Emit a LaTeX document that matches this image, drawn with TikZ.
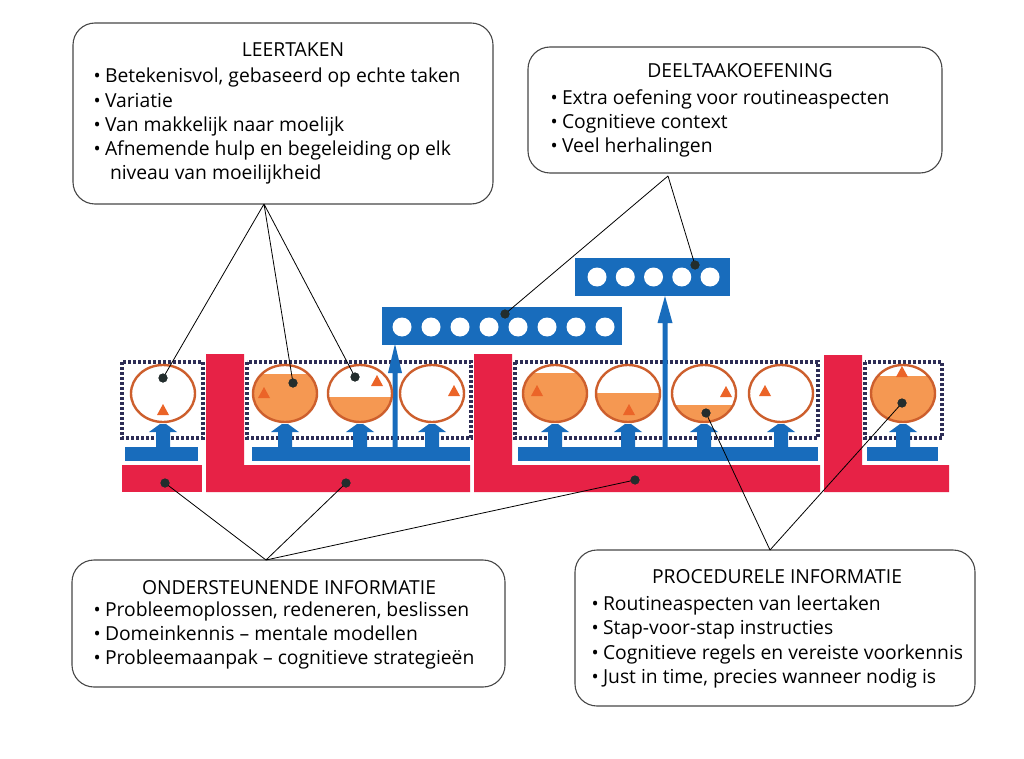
\documentclass[tikz,border=0pt]{standalone}
\usepackage{fontspec}
\setmainfont{Open Sans}
\definecolor{redL}{RGB}{231,34,70}
\definecolor{blueB}{RGB}{24,108,188}
\definecolor{ofill}{RGB}{245,152,82}
\definecolor{oedge}{RGB}{205,95,45}
\definecolor{triC}{RGB}{235,100,40}
\definecolor{dotbox}{RGB}{45,45,85}
\definecolor{dotC}{RGB}{35,45,45}
\newcommand\txtf{\fontsize{19.3}{24}\selectfont}
\newcommand\blt{\makebox[10pt][l]{\hspace*{-1.5pt}\fontsize{19}{19}\selectfont•}}
\newcommand\bluearrow[1]{\fill[blueB] (#1-7,448) -- (#1-7,432) -- (#1-14,432) -- (#1-3,424) -- (#1+3,424) -- (#1+14,432) -- (#1+7,432) -- (#1+7,448) -- cycle;}
\begin{document}
\begin{tikzpicture}[x=1pt,y=-1pt,
  every node/.style={inner sep=0pt,outer sep=0pt},
  infobox/.style={draw=black!72, line width=1.1pt, rounded corners=22pt, fill=white},
  ttl/.style={anchor=base, font=\txtf},
  ln/.style={anchor=base west, font=\txtf},
  dbox/.style={draw=dotbox, line width=3.4pt, dash pattern=on 3pt off 2pt},
  dot/.style={circle, fill=dotC, minimum size=9pt},
  conn/.style={draw=black, line width=0.8pt},
  oedgest/.style={draw=oedge, line width=2.4pt}]
\useasboundingbox[fill=white] (0,0) rectangle (1024,759);

% ---- info boxes ----
\node[infobox, minimum width=420pt, minimum height=181pt] (lt) at (283,113.5) {};
\node[ttl] (lt-t) at (293,57) {LEERTAKEN};
\node[ln] (lt-1) at (95,83) {\blt Betekenisvol, gebaseerd op echte taken};
\node[ln] (lt-2) at (95,107.3) {\blt Variatie};
\node[ln] (lt-3) at (95,131.6) {\blt Van makkelijk naar moelijk};
\node[ln] (lt-4) at (95,156) {\blt Afnemende hulp en begeleiding op elk};
\node[ln] (lt-5) at (110,180) {niveau van moeilijkheid};

\node[infobox, minimum width=414pt, minimum height=126pt] (dt) at (735,110) {};
\node[ttl] (dt-t) at (740,78) {DEELTAAKOEFENING};
\node[ln] (dt-1) at (552,105) {\blt Extra oefening voor routineaspecten};
\node[ln] (dt-2) at (552,129) {\blt Cognitieve context};
\node[ln] (dt-3) at (552,153) {\blt Veel herhalingen};

\node[infobox, minimum width=433pt, minimum height=127pt] (oi) at (288.5,623.5) {};
\node[ttl] (oi-t) at (289,594) {ONDERSTEUNENDE INFORMATIE};
\node[ln] (oi-1) at (95,616) {\blt Probleemoplossen, redeneren, beslissen};
\node[ln] (oi-2) at (95,640) {\blt Domeinkennis -- mentale modellen};
\node[ln] (oi-3) at (95,664) {\blt Probleemaanpak -- cognitieve strategieën};

\node[infobox, minimum width=400pt, minimum height=156pt] (pi) at (775,628) {};
\node[ttl] (pi-t) at (777,583) {PROCEDURELE INFORMATIE};
\node[ln] (pi-1) at (593,610) {\blt Routineaspecten van leertaken};
\node[ln] (pi-2) at (593,634.5) {\blt Stap-voor-stap instructies};
\node[ln] (pi-3) at (593,659) {\blt Cognitieve regels en vereiste voorkennis};
\node[ln] (pi-4) at (593,683) {\blt Just in time, precies wanneer nodig is};

% ---- dotted task frames ----
\draw[dbox] (122,362) rectangle (203,438);
\draw[dbox] (247,362) rectangle (471,438);
\draw[dbox] (515,362) rectangle (818,438);
\draw[dbox] (865,362) rectangle (942,438);

% ---- red supportive information ----
\fill[redL] (122,465) rectangle (202,492);
\fill[redL] (206,354) -- (244,354) -- (244,465) -- (470,465) -- (470,492) -- (206,492) -- cycle;
\fill[redL] (474,354) -- (512,354) -- (512,465) -- (820,465) -- (820,492) -- (474,492) -- cycle;
\fill[redL] (824,355) -- (862,355) -- (862,465) -- (949,465) -- (949,492) -- (824,492) -- cycle;

% ---- blue procedural information ----
\fill[blueB] (125,447) rectangle (198,461);
\fill[blueB] (252,447) rectangle (470,461);
\fill[blueB] (518,447) rectangle (818,461);
\fill[blueB] (867,447) rectangle (938,461);
\foreach \c in {163,285,360,432,555,628,704,781,903} {\bluearrow{\c}}

% thin tall arrows to part-task practice
\fill[blueB] (392.5,448) -- (392.5,373) -- (388,373) -- (395,344) -- (402,373) -- (397.5,373) -- (397.5,448) -- cycle;
\fill[blueB] (662.5,448) -- (662.5,323) -- (657.5,323) -- (665,296) -- (672.5,323) -- (667.5,323) -- (667.5,448) -- cycle;

% ---- part-task practice bars ----
\fill[blueB] (382,307) rectangle (622,345);
\foreach \k in {0,...,7} {\fill[white] (402+29*\k,327) circle [radius=9.5];}
\fill[blueB] (575,258) rectangle (730,296);
\foreach \k in {0,...,4} {\fill[white] (597+28.25*\k,277) circle [radius=9.5];}

% ---- learning tasks (circles) ----
\foreach \x/\lev/\tx/\ty in {163/500/163/410, 285/374/264/393, 360/397/377/381, 432/500/454/391, 555/373/537/391, 628/393/629/410, 704/405/726/392, 781/500/765/391, 903/376/902/372} {
  \begin{scope}
    \clip (\x,393.5) ellipse [x radius=32, y radius=28.5];
    \fill[white] (\x-40,360) rectangle (\x+40,430);
    \fill[ofill] (\x-40,\lev) rectangle (\x+40,430);
  \end{scope}
  \draw[oedgest] (\x,393.5) ellipse [x radius=32, y radius=28.5];
  \fill[triC] (\tx-6,\ty+5) -- (\tx+6,\ty+5) -- (\tx,\ty-6) -- cycle;
}

% ---- connector anchors ----
\coordinate (ltA) at (264,204);
\coordinate (dtA) at (668,176);
\coordinate (oiA) at (266,560);
\coordinate (piA) at (770,550);

\node[dot] (c1) at (163,378) {};
\node[dot] (c2) at (293,383) {};
\node[dot] (c3) at (355,377) {};
\node[dot] (b8) at (505,314) {};
\node[dot] (b5) at (695,265) {};
\node[dot] (r0) at (165,483) {};
\node[dot] (r1) at (346,483) {};
\node[dot] (r2) at (635,480) {};
\node[dot] (c7) at (706,413) {};
\node[dot] (c9) at (902,403) {};

\draw[conn] (ltA) -- (c1.center) (ltA) -- (c2.center) (ltA) -- (c3.center);
\draw[conn] (dtA) -- (b8.center) (dtA) -- (b5.center);
\draw[conn] (oiA) -- (r0.center) (oiA) -- (r1.center) (oiA) -- (r2.center);
\draw[conn] (piA) -- (c7.center) (piA) -- (c9.center);

\foreach \d in {c1,c2,c3,b8,b5,r0,r1,r2,c7,c9} {\fill[dotC] (\d) circle [radius=4.5];}
\end{tikzpicture}
\end{document}
